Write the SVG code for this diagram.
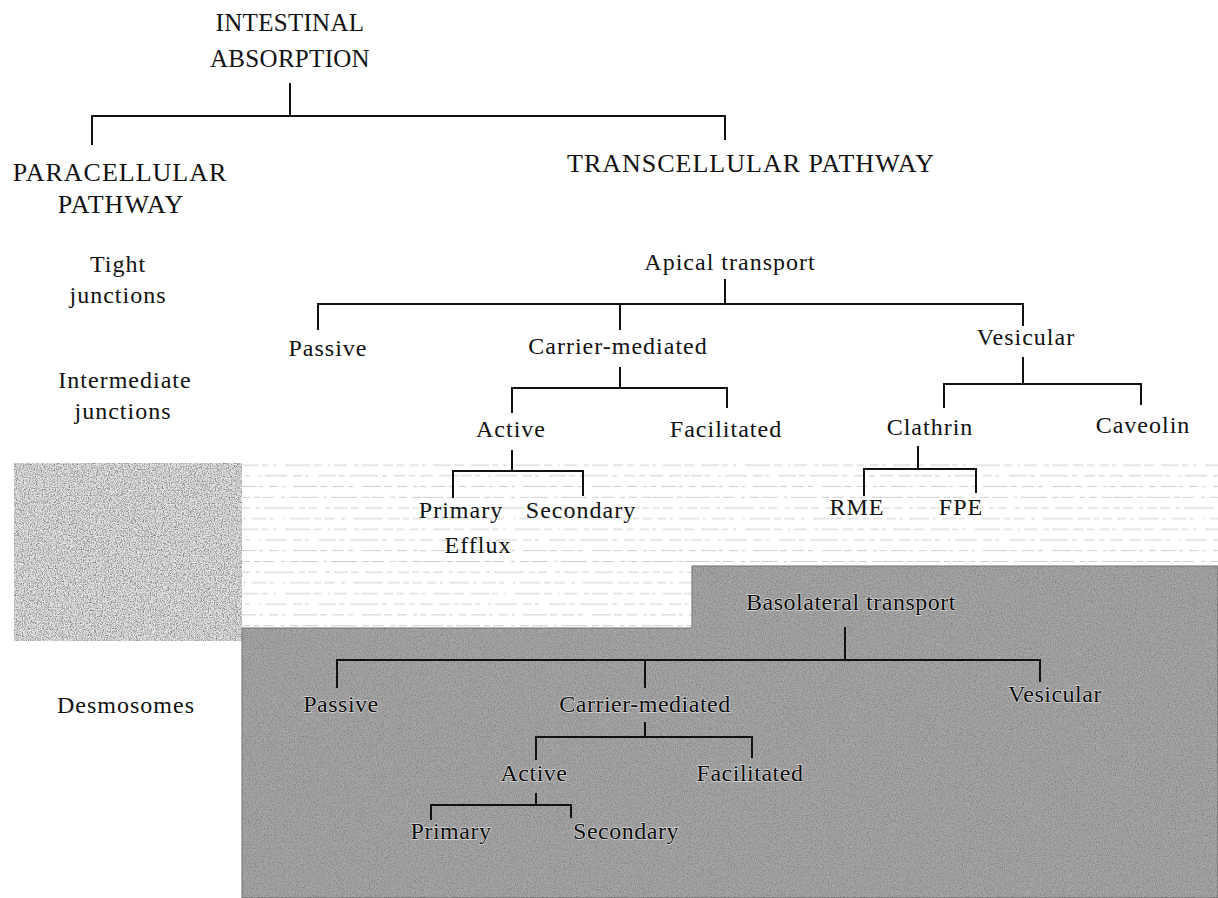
<svg xmlns="http://www.w3.org/2000/svg" width="1218" height="898" viewBox="0 0 1218 898">
<style>
text{font-family:"Liberation Serif","Times New Roman",serif;fill:#111;text-anchor:middle}
.t1{font-size:26px;letter-spacing:1px}
.t0{font-size:25px;letter-spacing:0.3px}
.t2{font-size:24px;letter-spacing:1px}
.t3{font-size:24px;letter-spacing:0.5px;fill:#0a0a0a;stroke:#dcdcdc;stroke-width:1.4px;paint-order:stroke;stroke-linejoin:round}
.ln{stroke:#111;stroke-width:2;fill:none}
.st{stroke:#cdcdcd;stroke-width:1}
</style>
<defs>
<filter id="speck" x="0" y="0" width="100%" height="100%">
<feTurbulence type="fractalNoise" baseFrequency="0.85" numOctaves="2" seed="4"/>
<feColorMatrix type="matrix" values="0 0 0 0 0  0 0 0 0 0  0 0 0 0 0  3 0 0 0 -1.25"/>
</filter>
<clipPath id="boxclip"><path d="M243,629 H693 V567 H1218 V898 H243 Z"/></clipPath>
<pattern id="stripes" width="230" height="64.2" patternUnits="userSpaceOnUse">
<line class="st" x1="0" y1="5" x2="230" y2="5" stroke-dasharray="9 4 3 6 14 3 5 9 2 5 20 4 7 3 11 6 4 8 30 5 12 3 6 4 9 5"/>
<line class="st" x1="0" y1="15.7" x2="230" y2="15.7" stroke-dasharray="4 7 18 3 6 5 3 9 25 4 8 6 2 4 13 7 5 3 16 5 10 4 7 6 9 3"/>
<line class="st" x1="0" y1="26.4" x2="230" y2="26.4" stroke-dasharray="12 3 5 8 3 4 22 6 9 3 4 10 17 3 6 5 28 4 5 7 11 4 6 5 13 6"/>
<line class="st" x1="0" y1="37.1" x2="230" y2="37.1" stroke-dasharray="6 5 15 3 4 6 9 4 3 8 24 3 7 5 12 4 5 9 19 3 8 5 10 6 4 3"/>
<line class="st" x1="0" y1="47.8" x2="230" y2="47.8" stroke-dasharray="20 4 6 3 11 7 4 5 9 3 16 6 3 4 26 5 7 3 12 6 5 4 8 5 10 1"/>
<line class="st" x1="0" y1="58.5" x2="230" y2="58.5" stroke-dasharray="7 3 10 6 4 4 30 5 6 3 9 8 5 4 14 3 8 6 18 4 6 5 11 3 7 4"/>
</pattern>
</defs>
<g id="background">
<rect x="0" y="0" width="1218" height="898" fill="#ffffff"/>
<rect x="242" y="463" width="976" height="166" fill="url(#stripes)"/>
<rect x="14" y="463" width="228" height="178" fill="#e2e2e2"/>
<rect x="14" y="463" width="228" height="178" filter="url(#speck)" opacity="0.4"/>
<path d="M242,628 H692 V566 H1218 V898 H242 Z" fill="#a6a6a6" stroke="#6a6a6a" stroke-width="1"/>
<g clip-path="url(#boxclip)"><rect x="243" y="567" width="975" height="331" filter="url(#speck)" opacity="0.18"/></g>
</g>
<g id="connectors">
<path class="ln" d="M290,83 V116 M92,145 V116 H725 V140"/>
<path class="ln" d="M725,279 V304 M318,330 V304 H1023 V326 M620,304 V330"/>
<path class="ln" d="M620,367 V388 M512,413 V388 H727 V408"/>
<path class="ln" d="M512,450 V471 M453,498 V471 H583 V496"/>
<path class="ln" d="M1023,357 V384 M944,408 V384 H1141 V405"/>
<path class="ln" d="M918,446 V469 M864,496 V469 H976 V493"/>
<path class="ln" d="M845,627 V660 M337,688 V660 H1040 V682 M645,660 V688"/>
<path class="ln" d="M645,722 V737 M536,760 V737 H752 V758"/>
<path class="ln" d="M536,793 V805 M431,820 V805 H571 V818"/>
</g>
<g id="n-intestinal"><text class="t0" x="290" y="31">INTESTINAL</text><text class="t0" x="290" y="67">ABSORPTION</text></g>
<g id="n-paracellular"><text class="t1" x="120" y="181">PARACELLULAR</text><text class="t1" x="121" y="213">PATHWAY</text></g>
<g id="n-transcellular"><text class="t1" x="751" y="172">TRANSCELLULAR PATHWAY</text></g>
<g id="n-tight"><text class="t2" x="118" y="272">Tight</text><text class="t2" x="118" y="303">junctions</text></g>
<g id="n-intermediate"><text class="t2" x="125" y="388">Intermediate</text><text class="t2" x="123" y="419">junctions</text></g>
<g id="n-desmosomes"><text class="t2" x="126" y="713">Desmosomes</text></g>
<g id="n-apical"><text class="t2" x="730" y="270">Apical transport</text></g>
<g id="n-a-passive"><text class="t2" x="328" y="356">Passive</text></g>
<g id="n-a-carrier"><text class="t2" x="618" y="354">Carrier-mediated</text></g>
<g id="n-a-vesicular"><text class="t2" x="1026" y="345">Vesicular</text></g>
<g id="n-a-active"><text class="t2" x="511" y="437">Active</text></g>
<g id="n-a-facilitated"><text class="t2" x="726" y="437">Facilitated</text></g>
<g id="n-clathrin"><text class="t2" x="930" y="435">Clathrin</text></g>
<g id="n-caveolin"><text class="t2" x="1143" y="433">Caveolin</text></g>
<g id="n-a-primary"><text class="t2" x="461" y="518">Primary</text><text class="t2" x="478" y="553">Efflux</text></g>
<g id="n-a-secondary"><text class="t2" x="581" y="518">Secondary</text></g>
<g id="n-rme"><text class="t2" x="857" y="515">RME</text></g>
<g id="n-fpe"><text class="t2" x="961" y="515">FPE</text></g>
<g id="n-basolateral"><text class="t3" x="851" y="610">Basolateral transport</text></g>
<g id="n-b-passive"><text class="t3" x="341" y="712">Passive</text></g>
<g id="n-b-carrier"><text class="t3" x="645" y="712">Carrier-mediated</text></g>
<g id="n-b-vesicular"><text class="t3" x="1055" y="702">Vesicular</text></g>
<g id="n-b-active"><text class="t3" x="534" y="781">Active</text></g>
<g id="n-b-facilitated"><text class="t3" x="750" y="781">Facilitated</text></g>
<g id="n-b-primary"><text class="t3" x="451" y="839">Primary</text></g>
<g id="n-b-secondary"><text class="t3" x="626" y="839">Secondary</text></g>
</svg>
